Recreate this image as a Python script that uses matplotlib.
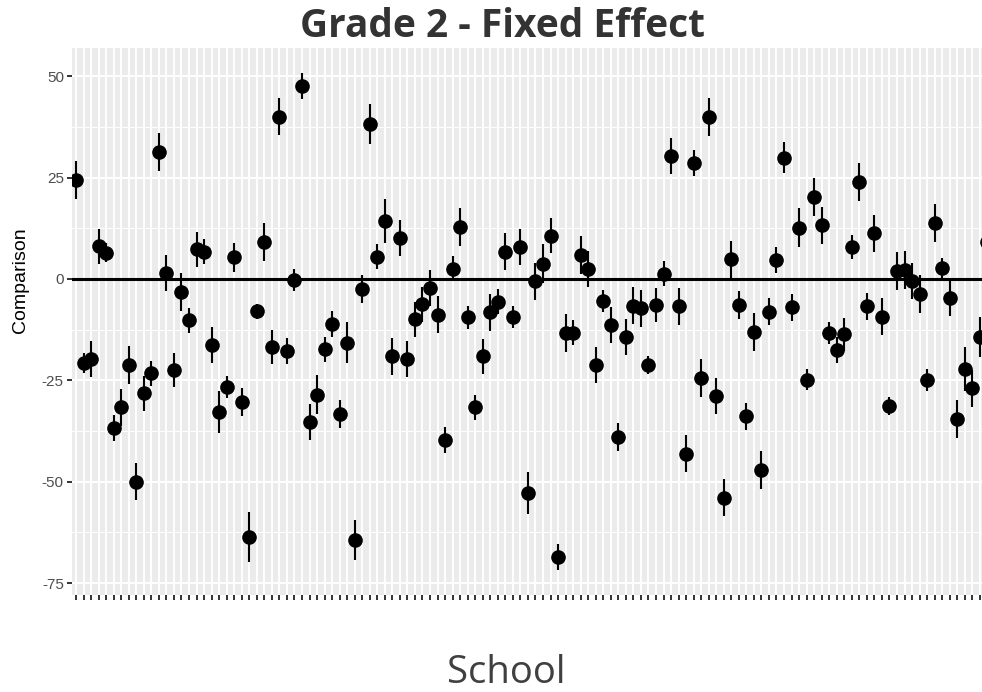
import matplotlib
matplotlib.use("Agg")
import matplotlib.pyplot as plt
import numpy as np

# school effects (comparison) and half-widths of the error bars
comparison = [24.3, -20.75, -19.75, 8, 6.5, -36.7, -31.7, -21.25, -50, -28.25,
              -23.3, 31.3, 1.5, -22.4, -3.25, -10.2, 7.3, 6.7, -16.25, -32.8,
              -26.6, 5.3, -30.4, -63.7, -8, 9.1, -16.8, 40, -17.75, -0.2,
              47.6, -35.25, -28.5, -17.4, -11, -33.25, -15.7, -64.3, -2.5, 38.1,
              5.5, 14.3, -19.1, 10.1, -19.7, -10, -6.2, -2.25, -8.8, -39.7,
              2.5, 12.7, -9.5, -31.6, -19.1, -8.2, -5.6, 6.7, -9.5, 7.9,
              -52.7, -0.6, 3.75, 10.7, -68.5, -13.3, -13.3, 5.8, 2.5, -21.2,
              -5.4, -11.4, -38.9, -14.3, -6.6, -7.25, -21.2, -6.4, 1.3, 30.25,
              -6.8, -43.1, 28.5, -24.4, 40, -28.9, -53.9, 4.8, -6.4, -33.9,
              -13, -47.1, -8.1, 4.7, 29.9, -7, 12.6, -24.8, 20.2, 13.2,
              -13.3, -17.6, -13.7, 7.9, 23.9, -6.8, 11.25, -9.3, -31.25, 1.9,
              2.2, -0.6, -3.7, -24.9, 13.8, 2.6, -4.7, -34.6, -22.3, -27,
              -14.3, 9.2]
err = [4.7, 2.5, 4.5, 4.4, 2.4, 3.2, 4.5, 4.75, 4.5, 4.4,
       3.1, 4.6, 4.4, 4.25, 4.6, 3.1, 4.3, 3.1, 4.5, 5.1,
       2.7, 3.5, 3.5, 6.2, 1.8, 4.6, 4.3, 4.6, 3.25, 2.75,
       3.2, 4.4, 4.8, 3.1, 3.2, 3.4, 5.1, 4.9, 3.5, 4.9,
       3.1, 5.4, 4.5, 4.5, 4.4, 4.25, 4.3, 4.4, 4.6, 3.1,
       3.1, 4.7, 2.8, 3.1, 4.4, 4.6, 3.0, 4.5, 2.7, 4.5,
       5.2, 4.6, 4.8, 4.4, 3.25, 4.7, 3.1, 4.7, 4.5, 4.5,
       2.7, 4.5, 3.5, 4.4, 4.5, 4.6, 2.2, 4.2, 3.1, 4.4,
       4.6, 4.5, 3.2, 4.7, 4.7, 4.4, 4.6, 4.6, 3.5, 3.25,
       4.7, 4.6, 3.3, 3.2, 3.75, 3.3, 4.8, 2.6, 4.8, 4.5,
       2.7, 3.25, 4.0, 2.9, 4.7, 3.3, 4.5, 4.5, 2.2, 4.7,
       4.6, 4.4, 4.6, 2.8, 4.6, 2.6, 4.5, 4.7, 5.4, 4.6,
       4.9, 4.5]
y_ticks = [-75, -50, -25, 0, 25, 50]

val = np.array(comparison)
e = np.array(err)
school = np.arange(1, len(val) + 1)

W, H = 982, 692
fig = plt.figure(figsize=(W / 100, H / 100), dpi=100)

step = 7.532
left_px, top_px, bot_px = 71.5, 48, 594.8
width_px = (len(val) - 1 + 1.2) * step
ax = fig.add_axes([left_px / W, 1 - bot_px / H, width_px / W, (bot_px - top_px) / H])
ax.set_facecolor('#EBEBEB')
ax.set_axisbelow(True)

lo = (val - e).min()
hi = (val + e).max()
pad = 0.05 * (hi - lo)
ax.set_ylim(lo - pad, hi + pad)
ax.set_xlim(0.4, len(val) + 0.6)

ax.set_xticks(school)
ax.set_xticklabels([])
ax.set_yticks(y_ticks)
ax.set_yticklabels([str(t) for t in y_ticks], fontsize=11, family='Liberation Sans', color='#4D4D4D')
ax.set_yticks([-62.5, -37.5, -12.5, 12.5, 37.5], minor=True)
ax.grid(True, which='major', color='white', lw=1.4)
ax.grid(True, which='minor', axis='y', color='white', lw=0.7)
ax.tick_params(axis='both', which='major', length=3.5, width=1.4, color='#333333', pad=2)
ax.tick_params(axis='y', which='minor', length=0)
for s in ax.spines.values():
    s.set_visible(False)

ax.axhline(0, color='black', lw=2.2, zorder=2)
ax.vlines(school, val - e, val + e, color='black', lw=1.5, zorder=3)
ax.plot(school, val, 'o', color='black', ms=9.5, zorder=4)

fig.text(0.5117, 0.961, 'Grade 2 - Fixed Effect', ha='center', va='center',
         fontsize=28, fontweight='bold', family='Open Sans', color='#333333')
fig.text(0.516, 0.028, 'School', ha='center', va='center',
         fontsize=27.5, family='Open Sans', color='#404040')
fig.text(0.0204, 0.595, 'Comparison', ha='center', va='center', rotation=90,
         fontsize=14, family='Liberation Sans', color='black')

fig.savefig('out.png', dpi=100)
